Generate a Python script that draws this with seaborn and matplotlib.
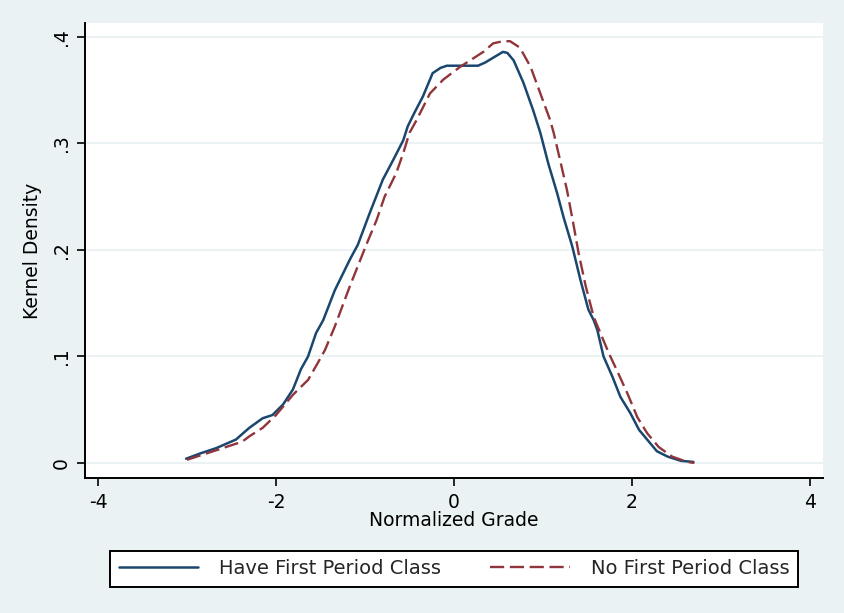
import matplotlib
matplotlib.use("Agg")
import matplotlib.pyplot as plt
import pandas as pd
import seaborn as sns

# Kernel density
have_x = [-3.01, -2.85, -2.67, -2.45, -2.30, -2.15, -2.04, -1.92, -1.81, -1.72,
          -1.64, -1.55, -1.47, -1.34, -1.17, -1.08, -0.95, -0.80, -0.68, -0.57,
          -0.52, -0.45, -0.35, -0.24, -0.15, -0.08, 0.10, 0.27, 0.35, 0.45,
          0.55, 0.60, 0.67, 0.78, 0.89, 0.97, 1.06, 1.16, 1.23, 1.33,
          1.42, 1.51, 1.57, 1.61, 1.68, 1.78, 1.87, 1.98, 2.08, 2.19,
          2.28, 2.40, 2.55, 2.69]
have_y = [0.004, 0.009, 0.014, 0.022, 0.033, 0.042, 0.045, 0.055, 0.069, 0.088,
          0.100, 0.122, 0.134, 0.162, 0.191, 0.205, 0.234, 0.266, 0.285, 0.303,
          0.316, 0.328, 0.344, 0.366, 0.371, 0.373, 0.373, 0.373, 0.376, 0.381,
          0.386, 0.385, 0.378, 0.357, 0.331, 0.310, 0.281, 0.253, 0.231, 0.203,
          0.172, 0.144, 0.134, 0.125, 0.100, 0.081, 0.062, 0.047, 0.031, 0.020,
          0.011, 0.006, 0.002, 0.001]

none_x = [-3.00, -2.67, -2.38, -2.30, -2.15, -2.00, -1.81, -1.64, -1.53, -1.45,
          -1.34, -1.17, -0.98, -0.87, -0.78, -0.65, -0.57, -0.50, -0.42, -0.27,
          -0.12, 0.07, 0.20, 0.33, 0.44, 0.55, 0.63, 0.74, 0.86, 0.97,
          1.08, 1.12, 1.19, 1.27, 1.34, 1.40, 1.48, 1.57, 1.63, 1.74,
          1.83, 1.95, 2.06, 2.17, 2.30, 2.45, 2.62, 2.70]
none_y = [0.003, 0.012, 0.020, 0.025, 0.033, 0.045, 0.064, 0.078, 0.094, 0.106,
          0.128, 0.166, 0.206, 0.228, 0.250, 0.272, 0.291, 0.310, 0.322, 0.347,
          0.360, 0.372, 0.379, 0.386, 0.394, 0.396, 0.396, 0.390, 0.372, 0.347,
          0.322, 0.310, 0.285, 0.256, 0.225, 0.197, 0.166, 0.137, 0.125, 0.103,
          0.087, 0.065, 0.043, 0.028, 0.015, 0.006, 0.001, 0.000]

x_ticks = [-4, -2, 0, 2, 4]
y_ticks = [0, 0.1, 0.2, 0.3, 0.4]
y_tick_labels = ["0", ".1", ".2", ".3", ".4"]
series_labels = ["Have First Period Class", "No First Period Class"]

BG = "#eaf2f3"
BLUE = "#1a476f"
RED = "#90353b"
FS = 13.5

W, H = 844, 613

sns.set_theme(style="white")
plt.rcParams["font.family"] = ["DejaVu Sans"]

fig = plt.figure(figsize=(W / 100, H / 100), dpi=100, facecolor=BG)
# plot region in pixels: left 85, right 823, top 23, bottom 478
ax = fig.add_axes([85 / W, (H - 478) / H, (823 - 85) / W, (478 - 23) / H])
ax.set_facecolor("white")

have_df = pd.DataFrame({"grade": have_x, "density": have_y})
none_df = pd.DataFrame({"grade": none_x, "density": none_y})

sns.lineplot(data=have_df, x="grade", y="density", ax=ax, sort=False, estimator=None,
             color=BLUE, linewidth=1.8, label=series_labels[0])
sns.lineplot(data=none_df, x="grade", y="density", ax=ax, sort=False, estimator=None,
             color=RED, linewidth=1.7, linestyle=(0, (6, 2.4)), label=series_labels[1])

ax.set_xlim(-4.146, 4.146)
ax.set_ylim(-0.0141, 0.4131)
ax.set_xticks(x_ticks)
ax.set_xticklabels([str(t) for t in x_ticks])
ax.set_yticks(y_ticks)
ax.set_yticklabels(y_tick_labels, rotation=90, va="center")

for y in y_ticks:
    ax.axhline(y, color=BG, linewidth=1.4, zorder=0)

for side in ["top", "right"]:
    ax.spines[side].set_visible(False)
for side in ["left", "bottom"]:
    ax.spines[side].set_color("black")
    ax.spines[side].set_linewidth(1.4)

ax.tick_params(axis="both", direction="out", length=6, width=1.2, color="black",
               labelsize=FS, labelcolor="black", bottom=True, left=True)
ax.tick_params(axis="x", pad=5)
ax.tick_params(axis="y", pad=4)

ax.set_xlabel("Normalized Grade", fontsize=FS, color="black", labelpad=-1)
ax.set_ylabel("Kernel Density", fontsize=FS, color="black", labelpad=7)

handles, labels = ax.get_legend_handles_labels()
ax.get_legend().remove()
leg = fig.legend(handles, labels, loc="lower left", ncol=2, mode="expand",
                 bbox_to_anchor=(110 / W, (H - 587) / H, (798 - 110) / W, 41 / H),
                 borderaxespad=0, frameon=True, fancybox=False, fontsize=14,
                 framealpha=1, handlelength=4.1, handletextpad=1.05, borderpad=0.45)
leg.get_frame().set_edgecolor("black")
leg.get_frame().set_linewidth(1.4)
leg.get_frame().set_facecolor("white")

fig.savefig("out.png", dpi=100, facecolor=BG)
